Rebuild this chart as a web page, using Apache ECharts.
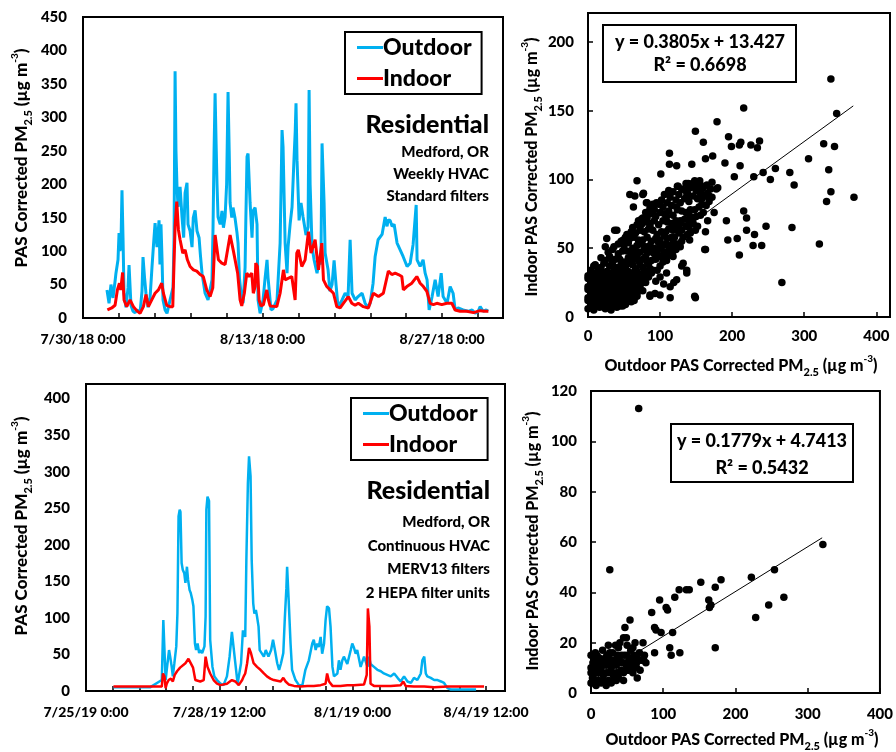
<!DOCTYPE html>
<html>
<head>
<meta charset="utf-8">
<title>PAS PM2.5 indoor / outdoor</title>
<style>
    body { margin: 0; background: #fff; }
    #main { width: 896px; height: 752px; }
</style>
</head>
<body>
<div id="main"></div>
<script src="https://cdn.jsdelivr.net/npm/echarts@6/dist/echarts.min.js"></script>
<script>
// ---- 2018 time series, x = days since 7/30/18 0:00 ----
var out2018 = [[1.87,42],[2.03,22],[2.18,50],[2.34,30],[2.50,55],[2.57,67],[2.73,87],[2.81,127],[2.88,100],[2.96,110],[3.04,191],[3.12,120],[3.20,37],[3.35,16],[3.51,45],[3.59,79],[3.74,19],[3.90,10],[4.06,8],[4.21,12],[4.45,8],[4.60,40],[4.68,91],[4.80,60],[4.91,37],[5.07,16],[5.23,30],[5.38,76],[5.50,110],[5.62,142],[5.77,106],[5.93,146],[6.00,80],[6.08,140],[6.16,90],[6.24,27],[6.40,12],[6.55,7],[6.79,27],[7.02,46],[7.10,120],[7.18,369],[7.25,250],[7.33,196],[7.41,166],[7.57,196],[7.72,151],[7.85,120],[7.96,187],[8.11,202],[8.19,140],[8.35,130],[8.50,106],[8.60,150],[8.74,161],[8.89,130],[9.05,120],[9.15,95],[9.28,67],[9.52,37],[9.75,27],[10.06,57],[10.14,136],[10.22,250],[10.30,336],[10.38,260],[10.45,200],[10.53,151],[10.70,140],[10.84,160],[10.95,135],[11.08,151],[11.20,200],[11.31,338],[11.40,250],[11.47,172],[11.60,150],[11.70,165],[11.85,150],[12.01,127],[12.09,112],[12.20,60],[12.32,37],[12.48,22],[12.64,76],[12.70,150],[12.79,241],[12.87,246],[13.03,172],[13.18,120],[13.26,160],[13.42,165],[13.57,140],[13.65,27],[13.81,7],[14.04,27],[14.20,60],[14.35,87],[14.43,60],[14.66,12],[14.82,14],[15.13,27],[15.37,112],[15.45,200],[15.52,281],[15.60,256],[15.76,112],[15.91,67],[15.99,106],[16.15,140],[16.30,166],[16.46,241],[16.55,280],[16.61,321],[16.69,236],[16.85,146],[17.00,172],[17.16,151],[17.39,124],[17.55,136],[17.63,341],[17.71,200],[17.86,106],[18.02,87],[18.25,67],[18.41,87],[18.55,80],[18.64,261],[18.80,172],[18.88,97],[19.11,72],[19.25,40],[19.42,50],[19.58,86],[19.73,50],[19.89,16],[20.20,27],[20.44,37],[20.67,32],[20.83,117],[20.98,37],[21.22,27],[21.45,32],[21.76,37],[22.00,22],[22.23,16],[22.39,22],[22.62,52],[22.78,92],[23.01,117],[23.32,125],[23.56,151],[23.71,137],[23.79,146],[23.95,146],[24.10,137],[24.26,140],[24.49,112],[24.73,102],[24.96,92],[25.27,77],[25.51,82],[25.74,110],[25.98,169],[26.05,87],[26.29,77],[26.52,87],[26.68,67],[26.83,57],[26.99,12],[27.22,32],[27.46,57],[27.69,32],[27.93,67],[28.08,32],[28.39,22],[28.63,47],[28.86,37],[29.02,12],[29.25,15],[29.64,12],[30.03,10],[30.34,12],[30.58,7],[30.81,10],[30.97,17],[31.20,10],[31.44,12],[31.59,10]];
var in2018 = [[1.90,12],[2.24,15],[2.50,19],[2.68,42],[2.84,52],[2.94,42],[3.09,68],[3.20,27],[3.41,17],[3.67,27],[3.93,17],[4.19,11],[4.45,7],[4.71,17],[4.91,35],[5.10,17],[5.36,27],[5.62,37],[5.88,42],[6.14,52],[6.27,37],[6.53,19],[6.79,17],[7.00,17],[7.18,137],[7.31,174],[7.44,132],[7.57,117],[7.78,97],[7.96,102],[8.14,87],[8.35,77],[8.61,72],[8.87,70],[9.13,65],[9.38,62],[9.65,42],[9.91,32],[10.12,45],[10.30,124],[10.56,87],[10.82,82],[11.08,80],[11.47,124],[11.73,100],[11.86,102],[12.06,67],[12.25,27],[12.38,18],[12.58,37],[12.77,67],[12.95,62],[13.16,67],[13.28,37],[13.42,47],[13.47,82],[13.60,77],[13.73,27],[13.88,18],[14.07,20],[14.33,42],[14.46,27],[14.59,18],[15.11,17],[15.37,37],[15.63,72],[15.76,57],[16.28,62],[16.54,27],[16.67,97],[16.79,102],[17.06,77],[17.32,87],[17.58,129],[17.78,97],[18.10,117],[18.36,72],[18.62,112],[18.75,57],[19.01,47],[19.27,42],[19.53,37],[19.79,17],[20.05,15],[20.30,22],[20.69,32],[20.96,22],[21.22,19],[21.47,22],[21.86,17],[22.25,15],[22.64,37],[23.04,32],[23.42,37],[23.81,70],[24.08,65],[24.34,67],[24.59,65],[24.86,62],[24.98,42],[25.25,47],[25.64,52],[26.03,62],[26.29,52],[26.54,47],[26.81,40],[27.07,22],[27.32,20],[27.59,22],[27.98,20],[28.37,22],[28.76,22],[29.02,12],[29.41,10],[29.93,10],[30.45,8],[30.97,11],[31.36,10],[31.61,10]];
var ticks2018 = [0, 14, 28];
var labels2018 = ['7/30/18 0:00', '8/13/18 0:00', '8/27/18 0:00'];

// ---- 2019 time series, x = days since 7/25/19 0:00 ----
var out2019 = [[0.72,5],[1.68,5],[1.99,15],[2.03,97],[2.06,56],[2.09,15],[2.12,29],[2.18,56],[2.21,47],[2.25,33],[2.28,20],[2.32,38],[2.37,61],[2.40,106],[2.43,239],[2.46,248],[2.48,245],[2.51,175],[2.54,166],[2.58,161],[2.61,148],[2.65,170],[2.68,152],[2.72,138],[2.75,134],[2.79,125],[2.82,116],[2.86,65],[2.89,56],[2.93,65],[2.97,52],[3.00,56],[3.05,52],[3.11,61],[3.14,102],[3.16,248],[3.19,266],[3.23,260],[3.26,70],[3.32,33],[3.37,20],[3.44,15],[3.53,10],[3.61,8],[3.70,20],[3.77,47],[3.83,81],[3.88,83],[3.92,38],[3.98,10],[4.03,8],[4.07,38],[4.12,83],[4.18,74],[4.21,179],[4.25,284],[4.28,321],[4.32,294],[4.35,179],[4.39,120],[4.42,106],[4.46,111],[4.49,102],[4.53,88],[4.56,56],[4.61,54],[4.67,47],[4.72,56],[4.79,47],[4.86,56],[4.91,70],[4.96,56],[5.02,38],[5.07,29],[5.12,38],[5.18,52],[5.22,100],[5.26,140],[5.28,170],[5.32,125],[5.37,65],[5.41,29],[5.50,15],[5.59,8],[5.68,8],[5.76,29],[5.85,42],[5.94,65],[5.98,70],[6.03,56],[6.07,65],[6.11,60],[6.16,74],[6.20,51],[6.25,65],[6.29,97],[6.33,116],[6.38,113],[6.42,88],[6.47,33],[6.51,20],[6.60,24],[6.64,42],[6.68,29],[6.73,42],[6.77,47],[6.86,37],[6.95,56],[6.99,65],[7.03,60],[7.08,51],[7.12,56],[7.21,33],[7.30,47],[7.39,33],[7.43,47],[7.47,37],[7.56,33],[7.65,29],[7.74,27],[7.82,24],[7.91,22],[8.00,20],[8.09,24],[8.18,18],[8.26,13],[8.35,20],[8.44,13],[8.53,11],[8.61,18],[8.70,15],[8.79,24],[8.83,42],[8.88,47],[8.92,24],[8.96,20],[9.05,18],[9.14,15],[9.23,15],[9.32,13],[9.40,11],[9.49,4],[9.58,2],[10.02,2],[10.24,2]];
var in2019 = [[0.72,6],[1.99,6],[2.02,24],[2.06,20],[2.09,4],[2.12,10],[2.17,15],[2.23,17],[2.28,13],[2.33,22],[2.39,27],[2.47,32],[2.61,38],[2.69,44],[2.74,43],[2.81,32],[2.87,15],[3.00,13],[3.09,15],[3.14,47],[3.19,33],[3.26,24],[3.35,15],[3.44,10],[3.53,8],[3.70,10],[3.83,15],[3.92,13],[4.01,8],[4.05,8],[4.10,15],[4.14,20],[4.18,24],[4.23,38],[4.28,59],[4.33,52],[4.40,38],[4.49,33],[4.58,29],[4.67,24],[4.75,20],[4.84,17],[4.93,15],[5.02,14],[5.11,13],[5.18,18],[5.24,13],[5.32,9],[5.46,7],[5.63,6],[5.81,7],[5.98,7],[6.16,8],[6.29,10],[6.33,24],[6.38,13],[6.47,7],[6.68,7],[6.86,8],[7.03,8],[7.30,9],[7.37,22],[7.40,113],[7.44,88],[7.47,10],[7.56,7],[7.74,7],[8.00,7],[8.26,8],[8.33,13],[8.39,7],[8.61,6],[8.88,6],[9.14,5],[9.49,6],[10.02,6],[10.45,6]];
var ticks2019 = [0, 3.5, 7, 10.5];
var labels2019 = ['7/25/19 0:00', '7/28/19 12:00', '8/1/19 0:00', '8/4/19 12:00'];

// ---- scatter: [outdoor, indoor] ----
var pairs2018 = [[337,173],[345,148],[216,152],[179,142],[149,135],[195,131],[160,127],[199,124],[210,125],[212,127],[226,125],[238,128],[235,123],[327,126],[342,124],[306,115],[334,107],[337,91],[331,84],[369,87],[321,53],[280,105],[286,96],[260,108],[253,100],[243,105],[230,102],[211,110],[203,102],[190,112],[173,117],[163,115],[144,111],[113,119],[113,111],[101,104],[216,77],[220,72],[220,63],[231,60],[192,70],[194,56],[207,57],[210,45],[229,52],[241,52],[247,66],[283,65],[269,25],[163,62],[163,49],[149,14],[149,63],[142,73],[123,66],[118,52],[109,44],[109,32],[119,25],[114,14],[132,39],[137,32],[94,26],[100,16],[86,16],[68,15],[77,27],[40,63],[26,57],[68,99],[65,88],[82,83],[77,90],[95,83],
    [37,63],[24,51],[58,89],[63,80],[76,89],[81,83],[123,110],[100,83],[74,71],[86,66],[49,56],[141,56],[162,49],[148,15],[114,22],[130,37],[137,34],[123,27],[105,24],[93,17],[86,15],[100,29],[109,41],[118,44],[128,51],[128,68],[109,73],[151,95],[158,93],[139,97],[137,88],[165,88],[123,80],[125,95],[135,92],[145,97],[155,99],[165,96],[172,98],[178,93],[168,88],[158,86],[180,94],[175,76],[166,70],
    [0,6],[8,5],[16,7],[24,6],[32,5],[40,7],[48,8],
    [4,10],[12,11],[20,9],[28,10],[36,11],[44,10],[52,12],[60,11],
    [0,14],[8,15],[16,13],[24,14],[32,15],[40,13],[48,15],[56,14],[64,16],
    [4,18],[12,19],[20,17],[28,18],[36,19],[44,17],[52,19],[60,18],[68,20],[76,19],
    [0,22],[8,23],[16,21],[24,22],[32,23],[40,21],[48,23],[56,22],[64,24],[72,23],[80,25],
    [4,26],[12,27],[20,25],[28,26],[36,27],[44,25],[52,27],[60,26],[68,28],[76,27],[84,29],
    [0,30],[8,31],[16,29],[24,30],[32,31],[40,29],[48,31],[56,30],[64,32],[72,31],[80,33],[88,32],
    [4,34],[14,35],[26,33],[36,35],[46,34],[56,33],[66,35],[76,36],[86,35],[96,34],
    [10,38],[22,39],[34,40],[46,38],[58,39],[70,41],[82,40],[94,42],[104,40],
    [18,43],[30,44],[44,42],[56,43],[68,45],[80,44],[92,46],[102,44],[112,47],
    [28,47],[42,46],[54,48],[66,47],[78,49],[90,48],[100,50],[112,51],[122,49],
    [36,51],[50,52],[62,50],[74,53],[86,52],[98,54],[108,53],[118,56],[130,55],
    [46,55],[58,57],[70,56],[82,58],[94,57],[106,59],[116,58],[126,61],[138,60],
    [54,60],[66,61],[78,62],[90,63],[102,62],[112,64],[124,65],[136,66],[146,68],
    [62,65],[74,67],[86,68],[98,67],[110,69],[122,70],[134,71],[146,72],[156,74],
    [70,70],[82,72],[94,73],[106,75],[118,74],[130,77],[142,78],[154,80],[164,81],
    [80,76],[92,78],[104,80],[116,81],[128,83],[140,84],[152,86],[162,88],[172,87],
    [90,82],[102,85],[114,87],[126,89],[138,90],[150,92],[160,94],[170,93],
    [112,92],[124,95],[136,97],[148,99],[156,96],
    [4,8],[12,8],[20,8],[28,8],[36,9],[44,8],[52,9],
    [0,12],[8,12],[16,12],[24,12],[32,12],[40,11],[48,12],[56,12],[64,12],
    [4,16],[12,16],[20,15],[28,16],[36,16],[44,15],[52,16],[60,16],[68,17],
    [0,20],[8,20],[16,20],[24,20],[32,20],[40,19],[48,20],[56,20],[64,21],[72,21],
    [4,24],[12,24],[20,24],[28,24],[36,23],[44,24],[52,24],[60,24],[68,25],[76,25],
    [0,28],[8,28],[16,28],[24,28],[32,28],[40,27],[48,28],[56,28],[64,29],[72,28],[80,29],
    [4,32],[12,32],[20,32],[28,32],[36,33],[44,32],[52,33],[60,32],[68,33],[78,33],[90,34],
    [8,37],[18,36],[30,37],[40,36],[52,36],[62,38],[72,38],[84,38],[100,37],
    [24,41],[38,42],[50,40],[62,42],[76,42],[88,41],[98,44],[108,43],
    [34,49],[48,48],[60,46],[72,47],[84,47],[96,47],[106,47],[118,48],
    [42,53],[56,54],[68,52],[80,51],[92,50],[104,52],[114,52],[124,53],
    [52,58],[64,58],[76,56],[88,55],[100,56],[110,57],[120,58],[132,58],[142,61],
    [60,62],[72,63],[84,64],[96,60],[108,62],[118,63],[130,63],[140,65],[152,66],
    [68,67],[80,69],[92,70],[104,70],[116,68],[128,70],[140,70],[150,73],[160,76],
    [76,72],[88,75],[100,76],[112,77],[124,78],[136,76],[148,78],[158,82],[168,84],
    [86,79],[98,82],[110,83],[122,85],[134,86],[146,88],[156,90],[166,90],
    [106,89],[118,91],[130,93],[142,94],[152,95]];
var pairs2019 = [[66,113],[26,49],[321,59],[254,49],[222,46],[180,45],[172,42],[163,37],[164,34],[166,35],[172,18],[267,38],[246,35],[228,30],[152,44],[136,41],[132,41],[122,41],[116,38],[95,37],[104,34],[106,33],[84,32],[90,25],[88,26],[97,24],[113,24],[109,18],[111,15],[123,16],[88,16],[72,20],[61,20],[54,29],[47,26],[49,22],[40,20],[24,19],[26,16],[63,13],[68,9],
    [45,22],[50,19],[55,17],[58,18],[38,18],[42,15],[20,14],[15,12],[10,10],[5,9],[3,12],[1,4],[2,6],
    [0,4],[7,3],[14,4],[21,3],[28,4],[35,5],
    [3,7],[10,8],[17,7],[24,8],[31,7],[38,8],[45,8],[52,9],
    [0,10],[7,11],[14,10],[21,11],[28,10],[35,11],[42,12],[49,11],[56,12],[63,12],[70,13],
    [4,13],[11,14],[18,13],[25,14],[32,13],[39,14],[46,15],[53,14],[60,15],[67,16],[74,15],
    [6,16],[16,17],[30,16],[34,19],[58,8],[64,6],[76,12],
    [3,5],[10,5],[17,5],[24,5],[31,5],[38,6],[45,5],
    [0,8],[7,8],[14,8],[21,8],[28,8],[35,8],[42,9],[49,9],[56,10],[63,10],
    [3,12],[10,12],[17,12],[24,12],[31,12],[38,12],[45,12],[52,12],[59,13],[66,13],[73,13],
    [0,15],[8,15],[22,15],[36,15],[50,15],[64,14]];
var fit2018 = { slope: 0.3805, intercept: 13.427, xs: [0, 368] };
var fit2019 = { slope: 0.1779, intercept: 4.7413, xs: [0, 320] };

var FONT = 'Lato';
var HEAVY = 900;
var BLUE = '#00B0F0';
var RED = '#FF0000';

function dateLabel(ticks, names) {
    return function (v) {
        for (var i = 0; i < ticks.length; i++) {
            if (Math.abs(v - ticks[i]) < 0.05) return names[i];
        }
        return '';
    };
}
function stepLabel(step) {
    return function (v) {
        return Math.abs(v / step - Math.round(v / step)) < 1e-6 ? String(v) : '';
    };
}
function fitLine(f) {
    return f.xs.map(function (x) { return [x, f.slope * x + f.intercept]; });
}

var labelStyle = { color: '#000', fontFamily: FONT, fontWeight: HEAVY, fontSize: 15 };
var axisLine = { show: true, lineStyle: { color: '#000', width: 2 } };

function tsX(grid, max, interval, ticks, names) {
    return {
        type: 'value', gridIndex: grid, min: 0, max: max, interval: interval,
        axisLine: axisLine, splitLine: { show: false },
        axisTick: { show: true, inside: true, length: 5, lineStyle: { color: '#000', width: 1.5 } },
        axisLabel: Object.assign({}, labelStyle, { fontSize: 14, margin: 14, formatter: dateLabel(ticks, names) })
    };
}
function valAxis(grid, max, interval, ticks, margin) {
    return {
        type: 'value', gridIndex: grid, min: 0, max: max, interval: interval,
        axisLine: axisLine, splitLine: { show: false },
        axisTick: { show: ticks, inside: true, length: 5, lineStyle: { color: '#000', width: 1.5 } },
        axisLabel: Object.assign({}, labelStyle, { margin: margin, formatter: stepLabel(interval) })
    };
}

var titleRich = {
    s: { fontSize: 11, fontWeight: HEAVY, fontFamily: FONT, verticalAlign: 'bottom', lineHeight: 24, fill: '#000' },
    p: { fontSize: 10, fontWeight: HEAVY, fontFamily: FONT, verticalAlign: 'top', lineHeight: 24, fill: '#000' }
};
function axisTitle(text, x, y, size, vertical) {
    return {
        type: 'text', x: x, y: y, rotation: vertical ? Math.PI / 2 : 0,
        style: {
            text: text, rich: titleRich, fill: '#000', fontFamily: FONT, fontWeight: HEAVY,
            fontSize: size, lineHeight: 24, align: 'center', verticalAlign: 'middle'
        }
    };
}
function note(text, x, y, size) {
    return {
        type: 'text', x: x, y: y,
        style: { text: text, fill: '#000', fontFamily: FONT, fontWeight: HEAVY, fontSize: size, align: 'right', verticalAlign: 'middle' }
    };
}
function centerText(text, x, y) {
    return {
        type: 'text', x: x, y: y, z: 10,
        style: { text: text, fill: '#000', fontFamily: FONT, fontWeight: HEAVY, fontSize: 18, align: 'center', verticalAlign: 'middle' }
    };
}
function box(x, y, w, h) {
    return { type: 'rect', shape: { x: x, y: y, width: w, height: h }, z: 9, style: { fill: '#fff', stroke: '#000', lineWidth: 2 } };
}
function legendAt(left, top) {
    return {
        data: ['Outdoor', 'Indoor'], orient: 'vertical', left: left, top: top,
        borderColor: '#000', borderWidth: 2, padding: [4, 10, 4, 12], itemGap: 8,
        icon: 'rect', itemWidth: 26, itemHeight: 3,
        textStyle: { color: '#000', fontFamily: FONT, fontWeight: HEAVY, fontSize: 23, padding: [0, 0, 0, -5] }
    };
}

var chart = echarts.init(document.getElementById('main'));
chart.setOption({
    backgroundColor: '#fff',
    animation: false,
    grid: [
        { left: 83, top: 17, width: 420, height: 301, show: true, borderColor: '#000', borderWidth: 2 },
        { left: 588, top: 13, width: 302, height: 304, show: true, borderColor: '#000', borderWidth: 2 },
        { left: 86, top: 384, width: 419, height: 307, show: true, borderColor: '#000', borderWidth: 2 },
        { left: 591, top: 391, width: 290, height: 302, show: true, borderColor: '#000', borderWidth: 2 }
    ],
    xAxis: [
        tsX(0, 32.75, 2.8, ticks2018, labels2018),
        valAxis(1, 419, 100, true, 12),
        tsX(2, 11, 0.7, ticks2019, labels2019),
        valAxis(3, 400, 100, true, 14)
    ],
    yAxis: [
        valAxis(0, 450, 50, false, 16),
        valAxis(1, 221, 50, true, 14),
        valAxis(2, 420, 50, false, 16),
        valAxis(3, 120, 20, true, 14)
    ],
    legend: [legendAt(345, 32), legendAt(351, 398)],
    graphic: [
        axisTitle('PAS Corrected PM{s|2.5} (µg m{p|-3})', 22, 158, 17, true),
        axisTitle('PAS Corrected PM{s|2.5} (µg m{p|-3})', 22, 526, 17, true),
        axisTitle('Indoor PAS Corrected PM{s|2.5} (µg m{p|-3})', 532, 167, 16, true),
        axisTitle('Indoor PAS Corrected PM{s|2.5} (µg m{p|-3})', 533, 541, 16, true),
        axisTitle('Outdoor PAS Corrected PM{s|2.5} (µg m{p|-3})', 741, 366, 16, false),
        axisTitle('Outdoor PAS Corrected PM{s|2.5} (µg m{p|-3})', 742, 740, 16, false),
        note('Residential', 489, 125, 25),
        note('Medford, OR', 489, 152, 15),
        note('Weekly HVAC', 489, 174, 15),
        note('Standard filters', 489, 196, 15),
        note('Residential', 490, 491, 25),
        note('Medford, OR', 490, 522, 15),
        note('Continuous HVAC', 490, 546, 15),
        note('MERV13 filters', 490, 569, 15),
        note('2 HEPA filter units', 490, 593, 15),
        box(603, 25, 193, 57),
        centerText('y = 0.3805x + 13.427', 700, 42),
        centerText('R² = 0.6698', 700, 65),
        box(671, 424, 182, 58),
        centerText('y = 0.1779x + 4.7413', 762, 441),
        centerText('R² = 0.5432', 762, 468)
    ],
    series: [
        { name: 'Outdoor', type: 'line', xAxisIndex: 0, yAxisIndex: 0, data: out2018, symbol: 'none',
          color: BLUE, lineStyle: { color: BLUE, width: 3 } },
        { name: 'Indoor', type: 'line', xAxisIndex: 0, yAxisIndex: 0, data: in2018, symbol: 'none',
          color: RED, lineStyle: { color: RED, width: 3 } },
        { name: 'Outdoor', type: 'line', xAxisIndex: 2, yAxisIndex: 2, data: out2019, symbol: 'none',
          color: BLUE, lineStyle: { color: BLUE, width: 2.5 } },
        { name: 'Indoor', type: 'line', xAxisIndex: 2, yAxisIndex: 2, data: in2019, symbol: 'none',
          color: RED, lineStyle: { color: RED, width: 2.5 } },
        { name: 'pairs2018', type: 'scatter', xAxisIndex: 1, yAxisIndex: 1, data: pairs2018,
          symbolSize: 7.5, itemStyle: { color: '#000', opacity: 1 } },
        { name: 'fit2018', type: 'line', xAxisIndex: 1, yAxisIndex: 1, data: fitLine(fit2018), symbol: 'none',
          lineStyle: { color: '#000', width: 1 } },
        { name: 'pairs2019', type: 'scatter', xAxisIndex: 3, yAxisIndex: 3, data: pairs2019,
          symbolSize: 7.5, itemStyle: { color: '#000', opacity: 1 } },
        { name: 'fit2019', type: 'line', xAxisIndex: 3, yAxisIndex: 3, data: fitLine(fit2019), symbol: 'none',
          lineStyle: { color: '#000', width: 1 } }
    ]
});
</script>
</body>
</html>
